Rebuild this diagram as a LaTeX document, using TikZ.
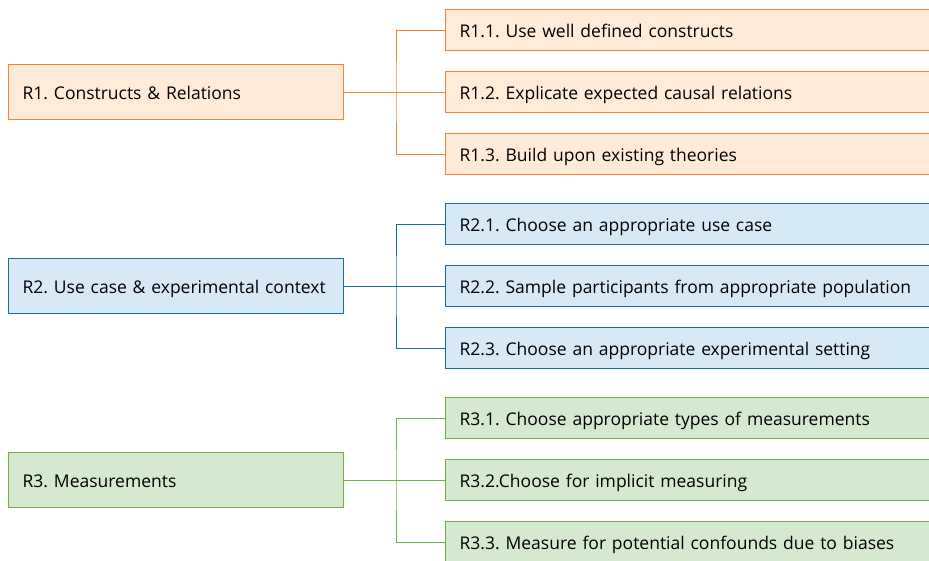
\documentclass[tikz,border=0pt]{standalone}
\usepackage{fontspec}
\setmainfont{Open Sans}
\frenchspacing
\definecolor{ofill}{HTML}{FFEBD8}
\definecolor{odraw}{HTML}{F5853A}
\definecolor{bfill}{HTML}{D7E9F5}
\definecolor{bdraw}{HTML}{1A6E9E}
\definecolor{gfill}{HTML}{D5E8D0}
\definecolor{gdraw}{HTML}{70B048}
\begin{document}
\begin{tikzpicture}[x=1pt,y=-1pt,
  box/.style={draw, line width=1.3pt, anchor=north west, align=left,
    text width=#1, inner xsep=14pt, inner ysep=0pt, text height=15pt, text depth=1pt,
    font=\fontsize{17.5}{20}\selectfont\frenchspacing},
  mainbox/.style={box=307pt, minimum height=55pt},
  subbox/.style={box=520pt, minimum height=41pt},
  orange/.style={fill=ofill, draw=odraw},
  blue/.style={fill=bfill, draw=bdraw},
  green/.style={fill=gfill, draw=gdraw},
  link/.style={line width=1pt}]
\useasboundingbox (0,0) rectangle (929,560);
\begin{scope}
\clip (0,0) rectangle (929,560);
% group 1
\node[mainbox, orange] (r1) at (8,64) {R1. Constructs \& Relations};
\node[subbox, orange] (r11) at (445,9) {R1.1. Use well defined constructs};
\node[subbox, orange] (r12) at (445,71) {R1.2. Explicate expected causal relations};
\node[subbox, orange] (r13) at (445,133) {R1.3. Build upon existing theories};
\coordinate (b1) at (396,91.5);
\draw[link, odraw] (r1.east) -- (r12.west);
\draw[link, odraw] (r11.west) -| (b1) |- (r13.west);
% group 2
\node[mainbox, blue] (r2) at (8,258) {R2. Use case \& experimental context};
\node[subbox, blue] (r21) at (445,203) {R2.1. Choose an appropriate use case};
\node[subbox, blue] (r22) at (445,265) {R2.2. Sample participants from appropriate population};
\node[subbox, blue] (r23) at (445,327) {R2.3. Choose an appropriate experimental setting};
\coordinate (b2) at (396,285.5);
\draw[link, bdraw] (r2.east) -- (r22.west);
\draw[link, bdraw] (r21.west) -| (b2) |- (r23.west);
% group 3
\node[mainbox, green] (r3) at (8,452) {R3. Measurements};
\node[subbox, green] (r31) at (445,397) {R3.1. Choose appropriate types of measurements};
\node[subbox, green] (r32) at (445,459) {R3.2.Choose for implicit measuring};
\node[subbox, green] (r33) at (445,521) {R3.3. Measure for potential confounds due to biases};
\coordinate (b3) at (396,479.5);
\draw[link, gdraw] (r3.east) -- (r32.west);
\draw[link, gdraw] (r31.west) -| (b3) |- (r33.west);
\end{scope}
\end{tikzpicture}
\end{document}
